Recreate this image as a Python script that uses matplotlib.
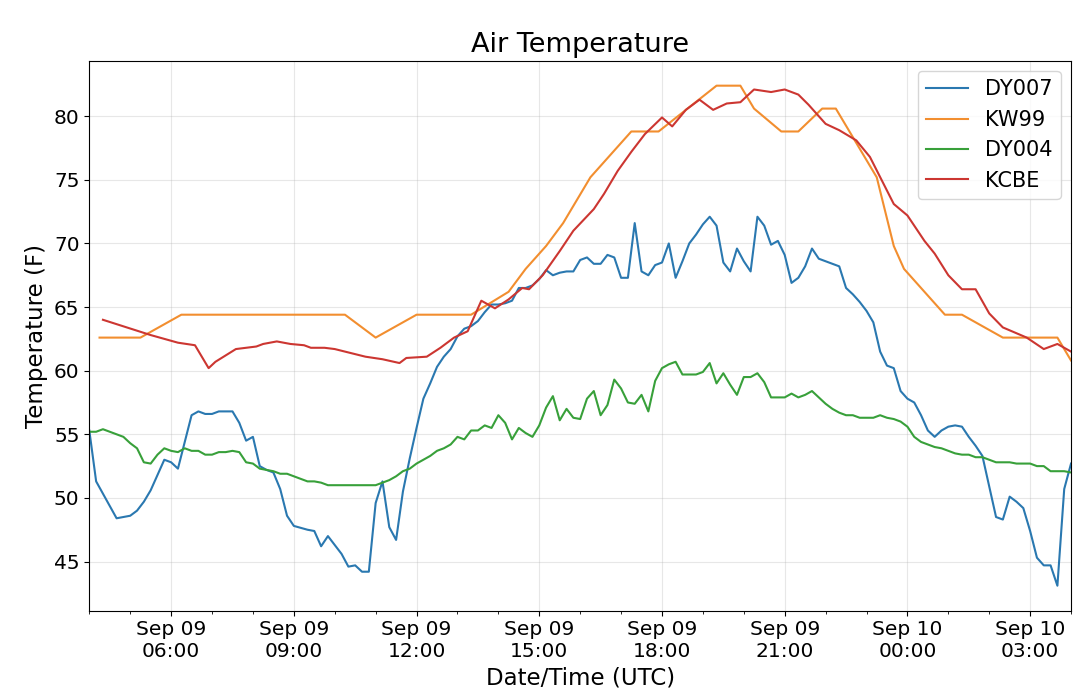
"""Air temperature at four stations, Sep 09 04:00 to Sep 10 04:00 UTC."""

import matplotlib
matplotlib.use('Agg')
import matplotlib.dates as mdates
import matplotlib.pyplot as plt
import pandas as pd

START = pd.Timestamp('2019-09-09 04:00')
END = pd.Timestamp('2019-09-10 04:00')

# minutes after START, temperature in F
DY007_MINUTES = [
    0, 10, 40, 60, 70, 80, 90, 100, 110, 120, 130, 140, 150, 160, 170, 180,
    190, 210, 220, 230, 240, 250, 260, 270, 280, 290, 300, 320, 330, 340,
    350, 360, 370, 380, 390, 400, 410, 420, 430, 440, 450, 460, 470, 480,
    490, 500, 510, 520, 530, 540, 550, 560, 570, 580, 590, 600, 610, 620,
    630, 640, 650, 660, 670, 680, 690, 700, 710, 720, 730, 740, 750, 760,
    770, 780, 790, 800, 810, 820, 830, 840, 850, 860, 870, 880, 890, 900,
    910, 920, 930, 940, 950, 960, 970, 980, 990, 1000, 1010, 1020, 1030,
    1040, 1050, 1060, 1070, 1080, 1100, 1110, 1120, 1130, 1140, 1150, 1160,
    1170, 1180, 1190, 1200, 1210, 1220, 1230, 1240, 1250, 1260, 1270, 1280,
    1290, 1300, 1310, 1320, 1330, 1340, 1350, 1360, 1370, 1380, 1390, 1400,
    1410, 1420, 1430, 1440]
DY007_TEMPS = [
    55.3, 51.3, 48.4, 48.6, 49.0, 49.7, 50.6, 51.8, 53.0, 52.8, 52.3, 54.4,
    56.5, 56.8, 56.6, 56.6, 56.8, 56.8, 55.9, 54.5, 54.8, 52.5, 52.2, 52.0,
    50.7, 48.6, 47.8, 47.5, 47.4, 46.2, 47.0, 46.3, 45.6, 44.6, 44.7, 44.2,
    44.2, 49.6, 51.3, 47.7, 46.7, 50.5, 53.1, 55.5, 57.8, 59.0, 60.3, 61.1,
    61.7, 62.7, 63.3, 63.5, 63.9, 64.6, 65.2, 65.2, 65.3, 65.5, 66.5, 66.5,
    66.7, 67.2, 67.9, 67.5, 67.7, 67.8, 67.8, 68.7, 68.9, 68.4, 68.4, 69.1,
    68.9, 67.3, 67.3, 71.6, 67.8, 67.5, 68.3, 68.5, 70.0, 67.3, 68.6, 70.0,
    70.7, 71.5, 72.1, 71.4, 68.5, 67.8, 69.6, 68.6, 67.8, 72.1, 71.4, 69.9,
    70.2, 69.1, 66.9, 67.3, 68.2, 69.6, 68.8, 68.6, 68.2, 66.5, 66.0, 65.4,
    64.7, 63.8, 61.5, 60.4, 60.2, 58.4, 57.8, 57.5, 56.5, 55.3, 54.8, 55.3,
    55.6, 55.7, 55.6, 54.8, 54.1, 53.3, 50.9, 48.5, 48.3, 50.1, 49.7, 49.2,
    47.4, 45.3, 44.7, 44.7, 43.1, 50.7, 52.7]

KW99_MINUTES = [
    15, 75, 135, 375, 420, 480, 560, 615, 640, 670, 695, 715, 735, 765, 795,
    835, 920, 955, 975, 1015, 1040, 1075, 1095, 1155, 1180, 1195, 1255, 1280,
    1340, 1420, 1440]
KW99_TEMPS = [
    62.6, 62.6, 64.4, 64.4, 62.6, 64.4, 64.4, 66.2, 68.0, 69.8, 71.6, 73.4,
    75.2, 77.0, 78.8, 78.8, 82.4, 82.4, 80.6, 78.8, 78.8, 80.6, 80.6, 75.2,
    69.8, 68.0, 64.4, 64.4, 62.6, 62.6, 60.8]

DY004_MINUTES = [
    0, 10, 20, 30, 40, 50, 60, 70, 80, 90, 100, 110, 120, 130, 140, 150, 160,
    170, 180, 190, 200, 210, 220, 230, 240, 250, 260, 270, 280, 290, 300, 310,
    320, 330, 340, 350, 420, 430, 440, 450, 460, 470, 480, 490, 500, 510, 520,
    530, 540, 550, 560, 570, 580, 590, 600, 610, 620, 630, 640, 650, 660, 670,
    680, 690, 700, 710, 720, 730, 740, 750, 760, 770, 780, 790, 800, 810, 820,
    830, 840, 850, 860, 870, 880, 890, 900, 910, 920, 930, 940, 950, 960, 970,
    980, 990, 1000, 1010, 1020, 1030, 1040, 1050, 1060, 1070, 1080, 1090,
    1100, 1110, 1120, 1130, 1140, 1150, 1160, 1170, 1180, 1190, 1200, 1210,
    1220, 1230, 1240, 1250, 1260, 1270, 1280, 1290, 1300, 1310, 1320, 1330,
    1340, 1350, 1360, 1370, 1380, 1390, 1400, 1410, 1420, 1430, 1440]
DY004_TEMPS = [
    55.2, 55.2, 55.4, 55.2, 55.0, 54.8, 54.3, 53.9, 52.8, 52.7, 53.4, 53.9,
    53.7, 53.6, 53.9, 53.7, 53.7, 53.4, 53.4, 53.6, 53.6, 53.7, 53.6, 52.8,
    52.7, 52.3, 52.2, 52.1, 51.9, 51.9, 51.7, 51.5, 51.3, 51.3, 51.2, 51.0,
    51.0, 51.2, 51.4, 51.7, 52.1, 52.3, 52.7, 53.0, 53.3, 53.7, 53.9, 54.2,
    54.8, 54.6, 55.3, 55.3, 55.7, 55.5, 56.5, 55.9, 54.6, 55.5, 55.1, 54.8,
    55.7, 57.1, 58.0, 56.1, 57.0, 56.3, 56.2, 57.8, 58.4, 56.5, 57.3, 59.3,
    58.6, 57.5, 57.4, 58.1, 56.8, 59.2, 60.2, 60.5, 60.7, 59.7, 59.7, 59.7,
    59.9, 60.6, 59.0, 59.8, 58.9, 58.1, 59.5, 59.5, 59.8, 59.1, 57.9, 57.9,
    57.9, 58.2, 57.9, 58.1, 58.4, 57.9, 57.4, 57.0, 56.7, 56.5, 56.5, 56.3,
    56.3, 56.3, 56.5, 56.3, 56.2, 56.0, 55.6, 54.8, 54.4, 54.2, 54.0, 53.9,
    53.7, 53.5, 53.4, 53.4, 53.2, 53.2, 53.0, 52.8, 52.8, 52.8, 52.7, 52.7,
    52.7, 52.5, 52.5, 52.1, 52.1, 52.1, 52.0]

KCBE_MINUTES = [
    20, 55, 90, 130, 155, 175, 185, 215, 245, 255, 275, 295, 315, 325, 345,
    360, 405, 430, 455, 465, 495, 515, 535, 555, 575, 595, 615, 635, 645, 665,
    690, 710, 740, 755, 775, 795, 815, 840, 855, 875, 895, 915, 935, 955, 975,
    1000, 1020, 1040, 1055, 1080, 1100, 1125, 1145, 1180, 1200, 1225, 1240,
    1260, 1280, 1300, 1320, 1340, 1375, 1400, 1420, 1440]
KCBE_TEMPS = [
    64.0, 63.4, 62.8, 62.2, 62.0, 60.2, 60.7, 61.7, 61.9, 62.1, 62.3, 62.1,
    62.0, 61.8, 61.8, 61.7, 61.1, 60.9, 60.6, 61.0, 61.1, 61.8, 62.6, 63.1,
    65.5, 64.9, 65.6, 66.5, 66.4, 67.5, 69.4, 71.0, 72.7, 73.9, 75.7, 77.2,
    78.6, 79.9, 79.2, 80.5, 81.3, 80.5, 81.0, 81.1, 82.1, 81.9, 82.1, 81.7,
    80.9, 79.4, 78.9, 78.1, 76.8, 73.1, 72.2, 70.2, 69.2, 67.5, 66.4, 66.4,
    64.5, 63.4, 62.6, 61.7, 62.1, 61.5]

STATIONS = [
    ('DY007', DY007_MINUTES, DY007_TEMPS, '#2a78b0'),
    ('KW99', KW99_MINUTES, KW99_TEMPS, '#f28e2f'),
    ('DY004', DY004_MINUTES, DY004_TEMPS, '#38a03a'),
    ('KCBE', KCBE_MINUTES, KCBE_TEMPS, '#cc3631'),
]


def to_times(minutes):
    """Turns minute offsets into timestamps."""
    return START + pd.to_timedelta(minutes, unit='m')


def main():
    figure = plt.figure(figsize=(10.8, 6.99), dpi=100)
    axis = figure.add_axes([0.0827, 0.1263, 0.909, 0.7869])

    for name, minutes, temps, color in STATIONS:
        axis.plot(to_times(minutes), temps, label=name, color=color,
                  linewidth=1.5)

    axis.set_xlim(START, END)
    axis.xaxis.set_major_locator(mdates.HourLocator(byhour=range(0, 24, 3)))
    axis.xaxis.set_minor_locator(mdates.HourLocator())
    axis.xaxis.set_major_formatter(mdates.DateFormatter('%b %d\n%H:%M'))
    axis.tick_params(axis='both', which='major', labelsize=14.5)

    axis.grid(True, which='major', alpha=0.3)
    axis.set_title('Air Temperature', fontsize=19.5)
    axis.set_xlabel('Date/Time (UTC)', fontsize=16.5)
    axis.set_ylabel('Temperature (F)', fontsize=16.5)
    axis.legend(loc='upper right', fontsize=15)

    figure.savefig('out.png', dpi=100)
    plt.close(figure)


if __name__ == '__main__':
    main()
